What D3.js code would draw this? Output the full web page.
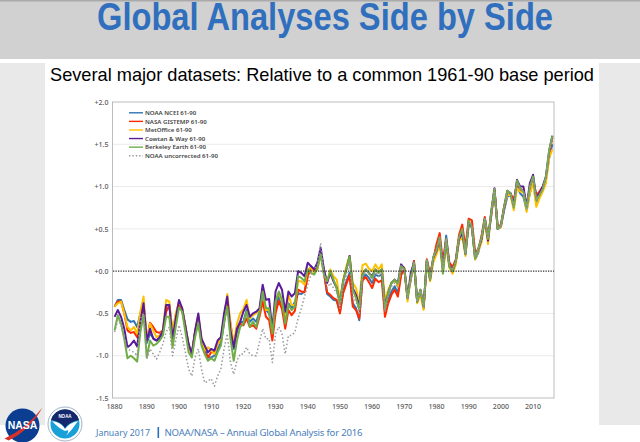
<!DOCTYPE html>
<html>
<head>
  <meta charset="utf-8" />
  <script src="https://d3js.org/d3.v7.min.js"></script>
  <style>
    html, body { margin: 0; padding: 0; background: #fff; overflow: hidden; }
    svg { display: block; }
    .axis text { font-family: "Noto Sans", sans-serif; font-size: 7px; fill: #595959; font-weight: 500; }
    .axis path, .axis line { display: none; }
    .legend-label { font-family: "Noto Sans", sans-serif; font-size: 6.1px; fill: #444; font-weight: 600; }
  </style>
</head>
<body>
  <svg id="chart" width="640" height="442"></svg>
  <script>
    // values, one row per decade, 1880-2016
    const noaa = [
      -.42,-.34,-.34,-.46,-.57,-.60,-.59,-.66,-.50,-.38,
      -.85,-.74,-.79,-.82,-.80,-.72,-.45,-.42,-.72,-.53,
      -.38,-.45,-.65,-.88,-.98,-.72,-.55,-.82,-.92,-1.02,
      -1.02,-1.00,-.92,-.85,-.62,-.36,-.68,-.92,-.72,-.60,
      -.60,-.46,-.60,-.56,-.60,-.48,-.26,-.46,-.50,-.75,
      -.42,-.30,-.40,-.62,-.38,-.44,-.36,-.26,-.27,-.24,
      -.05,.06,.02,.05,.25,0,-.27,-.30,-.34,-.35,
      -.48,-.24,-.12,-.02,-.38,-.44,-.58,-.08,-.04,-.08,
      -.14,-.04,-.06,-.04,-.48,-.34,-.24,-.18,-.26,-.02,
      .02,-.30,-.10,.12,-.36,-.24,-.44,.13,-.06,.14,
      .28,.36,.06,.42,.08,.04,.12,.36,.44,.24,
      .54,.52,.14,.22,.40,.60,.38,.66,.96,.50,
      .52,.72,.88,.90,.76,1.02,.92,.88,.72,.92,
      1.08,.80,.88,.96,1.10,1.34,1.50
    ];
    const gistemp = [
      -.42,-.36,-.36,-.50,-.70,-.73,-.72,-.78,-.54,-.40,
      -.82,-.61,-.66,-.72,-.73,-.70,-.48,-.40,-.78,-.52,
      -.40,-.47,-.66,-.90,-.96,-.72,-.58,-.85,-.96,-1.02,
      -.96,-.96,-.86,-.80,-.58,-.36,-.62,-.88,-.68,-.62,
      -.64,-.56,-.66,-.64,-.68,-.54,-.36,-.54,-.58,-.82,
      -.50,-.35,-.45,-.68,-.46,-.52,-.47,-.22,-.24,-.25,
      -.06,.03,0,.04,.22,-.02,-.25,-.28,-.32,-.34,
      -.50,-.26,-.15,-.05,-.42,-.46,-.56,-.11,-.07,-.13,
      -.20,-.09,-.13,-.11,-.54,-.38,-.28,-.22,-.30,-.05,
      .03,-.30,-.10,.12,-.36,-.24,-.44,.14,-.04,.14,
      .32,.45,.10,.38,.10,.05,.14,.43,.55,.28,
      .62,.60,.22,.26,.42,.64,.40,.66,.96,.54,
      .54,.74,.92,.92,.84,1.04,.96,.96,.76,.98,
      1.08,.90,.94,1.00,1.10,1.38,1.58
    ];
    const metoffice = [
      -.42,-.38,-.36,-.50,-.66,-.70,-.66,-.74,-.48,-.30,
      -.82,-.62,-.70,-.78,-.76,-.70,-.34,-.36,-.72,-.50,
      -.36,-.44,-.66,-.88,-1.00,-.72,-.52,-.80,-.94,-.90,
      -.94,-.98,-.86,-.80,-.56,-.27,-.62,-.86,-.62,-.50,
      -.45,-.34,-.56,-.52,-.50,-.46,-.22,-.46,-.46,-.72,
      -.34,-.26,-.36,-.58,-.28,-.40,-.40,-.12,-.12,-.16,
      .02,.04,-.02,.02,.20,.02,-.14,.02,-.06,-.10,
      -.34,-.10,.06,.18,-.14,-.20,-.38,.07,.09,.03,
      0,.08,.02,.08,-.34,-.22,-.14,-.10,-.18,.06,
      .04,-.36,-.08,.10,-.38,-.28,-.46,.10,-.12,.10,
      .20,.32,-.02,.30,.04,-.03,.08,.36,.40,.18,
      .56,.52,.14,.24,.34,.60,.32,.68,.97,.50,
      .52,.76,.90,.90,.72,.98,.94,.94,.70,.92,
      1.04,.76,.86,.94,1.04,1.34,1.44
    ];
    const cowtan = [
      -.54,-.46,-.54,-.68,-.90,-.87,-.82,-.89,-.60,-.38,
      -.82,-.68,-.80,-.82,-.78,-.70,-.40,-.40,-.80,-.56,
      -.34,-.44,-.66,-.86,-.98,-.70,-.50,-.80,-.88,-.96,
      -.92,-.94,-.82,-.78,-.50,-.30,-.70,-.90,-.68,-.60,
      -.48,-.40,-.54,-.50,-.48,-.44,-.16,-.34,-.33,-.70,
      -.24,-.14,-.22,-.48,-.24,-.30,-.26,0,-.02,-.06,
      .10,.06,.02,.10,.28,.03,-.14,-.02,-.12,-.20,
      -.38,-.12,.02,.18,-.20,-.28,-.42,-.04,.02,-.02,
      -.06,.02,-.02,.02,-.42,-.26,-.14,-.10,-.14,.08,
      .03,-.32,-.02,.10,-.36,-.22,-.42,.12,-.10,.16,
      .24,.38,.02,.36,.06,0,.12,.38,.46,.20,
      .58,.52,.16,.26,.38,.62,.36,.70,.98,.50,
      .54,.76,.95,.92,.78,1.08,1.00,1.00,.76,1.04,
      1.14,.86,.92,1.00,1.12,1.42,1.60
    ];
    const berkeley = [
      -.70,-.52,-.62,-.80,-1.03,-1.00,-1.03,-1.07,-.72,-.52,
      -1.02,-.82,-.88,-.86,-.82,-.76,-.54,-.54,-.90,-.66,
      -.43,-.48,-.72,-.96,-1.02,-.78,-.62,-.88,-.98,-1.06,
      -1.03,-1.06,-.96,-.88,-.60,-.42,-.80,-1.06,-.82,-.66,
      -.62,-.48,-.66,-.60,-.66,-.50,-.24,-.44,-.44,-.74,
      -.36,-.24,-.34,-.62,-.40,-.46,-.42,-.06,-.08,-.12,
      .02,-.02,-.04,.03,.20,-.04,-.12,0,-.10,-.20,
      -.38,-.12,.02,.17,-.22,-.32,-.45,-.05,.02,-.02,
      -.08,.02,-.02,.02,-.45,-.26,-.14,-.10,-.15,.06,
      .02,-.32,-.08,.10,-.36,-.22,-.42,.13,-.10,.17,
      .25,.40,-.03,.38,.05,0,.12,.40,.50,.20,
      .60,.52,.15,.27,.40,.62,.38,.70,.97,.50,
      .54,.76,.95,.92,.75,1.07,.98,.94,.74,1.00,
      1.12,.84,.90,.97,1.12,1.43,1.60
    ];
    const uncorrected = [
      -.72,-.58,-.64,-.80,-.92,-.94,-.96,-1.00,-.56,-.50,
      -1.04,-.92,-.98,-1.04,-.96,-.86,-.72,-.66,-1.00,-.82,
      -.64,-.78,-.96,-1.16,-1.24,-1.02,-.92,-1.16,-1.32,-1.30,
      -1.27,-1.36,-1.24,-1.16,-.92,-.74,-1.08,-1.22,-1.06,-.98,
      -.98,-.90,-.98,-1.00,-1.00,-.84,-.68,-.80,-.80,-1.08,
      -.74,-.66,-.74,-.98,-.76,-.76,-.72,-.56,-.44,-.30,
      -.16,-.04,.02,.08,.33,-.02,-.20,-.14,-.20,-.26,
      -.44,-.18,-.04,.10,-.30,-.36,-.50,-.06,.01,-.04,
      -.12,-.02,-.06,-.02,-.48,-.30,-.18,-.14,-.20,.04,
      .02,-.31,-.08,.11,-.36,-.23,-.43,.13,-.08,.15,
      .27,.40,.03,.38,.07,.02,.13,.40,.48,.22,
      .58,.54,.17,.25,.40,.62,.38,.68,.97,.51,
      .53,.75,.92,.92,.77,1.04,.96,.94,.74,.98,
      1.10,.85,.90,.97,1.10,1.40,1.56
    ];

    const seriesNames = ["NOAA NCEI 61-90", "NASA GISTEMP 61-90", "MetOffice 61-90", "Cowtan & Way 61-90", "Berkeley Earth 61-90", "NOAA uncorrected 61-90"];
    const seriesValues = [noaa, gistemp, metoffice, cowtan, berkeley, uncorrected];
    const seriesColors = ["#2e75b6", "#ff2a00", "#ffc000", "#5b1a9a", "#70ad47", "#999999"];
    const yTicks = [-1.5, -1, -0.5, 0, 0.5, 1, 1.5, 2];
    const xTicks = d3.range(1880, 2011, 10);
    const years = d3.range(1880, 2017);

    const svg = d3.select("#chart");

    // slide background
    svg.append("rect").attr("x", 0).attr("y", 63).attr("width", 640).attr("height", 362).attr("fill", "#e9e9e9");
    svg.append("rect").attr("x", 45).attr("y", 63).attr("width", 554).attr("height", 379).attr("fill", "#fff");
    svg.append("rect").attr("x", 0).attr("y", 425).attr("width", 640).attr("height", 17).attr("fill", "#fff");
    svg.append("rect").attr("x", 0).attr("y", 0).attr("width", 640).attr("height", 59).attr("fill", "#d1d1d1");
    svg.append("rect").attr("x", 0).attr("y", 0).attr("width", 640).attr("height", 1.5).attr("fill", "#aaa");

    svg.append("text").attr("x", 325).attr("y", 30)
      .attr("text-anchor", "middle")
      .attr("font-family", "Liberation Sans").attr("font-weight", "bold").attr("font-size", 39.5)
      .attr("fill", "#2f6fbd")
      .attr("textLength", 456).attr("lengthAdjust", "spacingAndGlyphs")
      .text("Global Analyses Side by Side");

    svg.append("text").attr("x", 50).attr("y", 81)
      .attr("font-family", "Liberation Sans").attr("font-size", 18.6)
      .attr("fill", "#000")
      .attr("textLength", 544).attr("lengthAdjust", "spacingAndGlyphs")
      .text("Several major datasets: Relative to a common 1961-90 base period");

    // chart
    const x = d3.scaleBand().domain(years).range([113, 554]);
    const y = d3.scaleLinear().domain([-1.5, 2]).range([398, 102]);
    const xc = yr => x(yr) + x.bandwidth() / 2;

    svg.append("g").selectAll("line")
      .data(yTicks.filter(d => d !== 0 && d !== -1.5 && d !== 2))
      .enter().append("line")
      .attr("x1", 113).attr("x2", 554)
      .attr("y1", d => y(d)).attr("y2", d => y(d))
      .attr("stroke", "#e4e4e4").attr("stroke-width", 0.8);

    svg.append("rect").attr("x", 112.5).attr("y", 102).attr("width", 441.5).attr("height", 296)
      .attr("fill", "none").attr("stroke", "#b5b5b5").attr("stroke-width", 0.9);

    svg.append("g").attr("class", "axis")
      .attr("transform", "translate(110,0)")
      .call(d3.axisLeft(y).tickValues(yTicks).tickSize(0).tickPadding(1.5)
        .tickFormat(d => (d < 0 ? "-" : "+") + Math.abs(d).toFixed(1)));

    svg.append("g").attr("class", "axis")
      .attr("transform", "translate(0,403)")
      .call(d3.axisBottom(x).tickValues(xTicks).tickSize(0).tickPadding(1));

    const line = d3.line().x((d, i) => xc(years[i])).y(d => y(d));

    svg.append("g").selectAll("path")
      .data(seriesValues)
      .enter().append("path")
      .attr("d", line)
      .attr("fill", "none")
      .attr("stroke", (d, i) => seriesColors[i])
      .attr("stroke-width", (d, i) => i === 5 ? 1.5 : 2)
      .attr("stroke-dasharray", (d, i) => i === 5 ? "1.5 2.2" : null)
      .attr("stroke-linejoin", "round");

    svg.append("line").attr("x1", 113).attr("x2", 554).attr("y1", y(0)).attr("y2", y(0))
      .attr("stroke", "#333").attr("stroke-width", 1.2).attr("stroke-dasharray", "1.3 1.2");

    // legend
    const legendY = d3.scalePoint().domain(seriesNames).range([112.8, 155.7]);
    const legend = svg.append("g").selectAll("g").data(seriesNames).enter().append("g")
      .attr("transform", d => `translate(129,${legendY(d)})`);
    legend.append("line").attr("x1", 0).attr("x2", 14)
      .attr("stroke", (d, i) => seriesColors[i])
      .attr("stroke-width", (d, i) => i === 5 ? 1.4 : 1.4)
      .attr("stroke-dasharray", (d, i) => i === 5 ? "1.4 2" : null);
    legend.append("text").attr("class", "legend-label").attr("x", 16).attr("dy", "0.35em").text(d => d);

    // footer
    svg.append("text").attr("x", 96).attr("y", 436)
      .attr("font-family", "Noto Sans").attr("font-size", 9.6).attr("fill", "#4a7ebb")
      .attr("textLength", 54).attr("lengthAdjust", "spacingAndGlyphs")
      .text("January 2017");
    svg.append("rect").attr("x", 157.5).attr("y", 427).attr("width", 1.6).attr("height", 11).attr("fill", "#2f6fbd");
    svg.append("text").attr("x", 164.5).attr("y", 436)
      .attr("font-family", "Noto Sans").attr("font-size", 9.6).attr("fill", "#4a7ebb")
      .attr("textLength", 198).attr("lengthAdjust", "spacing")
      .text("NOAA/NASA \u2013 Annual  Global  Analysis  for  2016");

    // NASA logo
    const nasa = svg.append("g").attr("transform", "translate(22.5,425.5)");
    nasa.append("circle").attr("r", 17).attr("fill", "#0b3d91");
    nasa.append("path").attr("d", "M-18 13 Q4 3 20 -18 Q7 5 -14 15 Z").attr("fill", "#d7322a");
    nasa.append("text").attr("text-anchor", "middle").attr("y", 3.5)
      .attr("font-family", "Liberation Sans").attr("font-weight", "bold").attr("font-size", 10.5)
      .attr("fill", "#fff").text("NASA");

    // NOAA logo
    const noaaLogo = svg.append("g").attr("transform", "translate(65,424)");
    noaaLogo.append("circle").attr("r", 17).attr("fill", "#fff").attr("stroke", "#8aa0b8").attr("stroke-width", 0.8);
    noaaLogo.append("circle").attr("r", 14.5).attr("fill", "#1aa0d8");
    noaaLogo.append("path").attr("d", "M-14 -4 A14.5 14.5 0 0 1 14 -4 Q4 -2 0 4 Q-5 -3 -14 -4 Z").attr("fill", "#14286e");
    noaaLogo.append("path").attr("d", "M-13 -3 Q-4 -2 0 5 Q4 -1 13 -3 Q7 6 1 12 Q6 4 0 7 Q-7 4 -13 -3 Z").attr("fill", "#fff");
    noaaLogo.append("text").attr("text-anchor", "middle").attr("y", -6)
      .attr("font-family", "Liberation Sans").attr("font-weight", "bold").attr("font-size", 4.5)
      .attr("fill", "#fff").text("NOAA");
  </script>
</body>
</html>
